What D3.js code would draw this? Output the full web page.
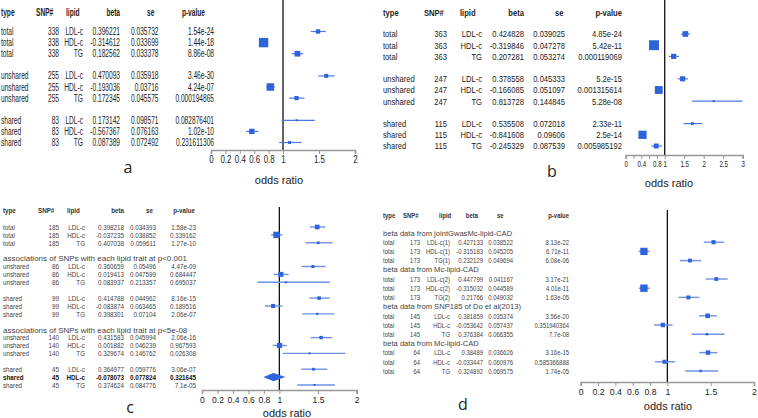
<!DOCTYPE html>
<html><head><meta charset="utf-8">
<script src="https://cdn.jsdelivr.net/npm/d3@7"></script>
<style>body{margin:0;background:#fff} svg{display:block}</style>
</head><body>
<svg id="chart" width="758" height="418"></svg>
<script>
// ---------- panel a ----------
const aType = ["total","total","total","unshared","unshared","unshared","shared","shared","shared"];
const aSnp = [338,338,338,255,255,255,83,83,83];
const aLipid = ["LDL-c","HDL-c","TG","LDL-c","HDL-c","TG","LDL-c","HDL-c","TG"];
const aBeta = [0.396221,-0.314612,0.182562,0.470093,-0.193036,0.172345,0.173142,-0.567367,0.087389];
const aSe = [0.035732,0.033699,0.033378,0.035918,0.03716,0.045575,0.098571,0.076163,0.072492];
const aP = ["1.54e-24","1.44e-18","8.86e-08","3.46e-30","4.24e-07","0.000194865","0.082876401","1.02e-10","0.231611306"];
const aGroup = [0,0,0,1,1,1,2,2,2];
const aSections = [null,null,null];
const aTicks = [0,0.2,0.4,0.6,0.8,1,1.5,2];

// ---------- panel b ----------
const bType = ["total","total","total","unshared","unshared","unshared","shared","shared","shared"];
const bSnp = [363,363,363,247,247,247,115,115,115];
const bLipid = ["LDL-c","HDL-c","TG","LDL-c","HDL-c","TG","LDL-c","HDL-c","TG"];
const bBeta = [0.424828,-0.319846,0.207281,0.378558,-0.166085,0.813728,0.535508,-0.841608,-0.245329];
const bSe = [0.039025,0.047278,0.053274,0.045333,0.051097,0.144845,0.072018,0.09606,0.087539];
const bP = ["4.85e-24","5.42e-11","0.000119069","5.2e-15","0.001315614","5.28e-08","2.33e-11","2.5e-14","0.005985192"];
const bGroup = [0,0,0,1,1,1,2,2,2];
const bSections = [null,null,null];
const bTicks = [0,0.2,0.4,0.6,0.8,1,1.5,2,2.5,3];
const bTickLabels = ["0","","0.4","","0.8","1","1.5","2","2.5","3"];

// ---------- panel c ----------
const cType = ["total","total","total","unshared","unshared","unshared","shared","shared","shared","unshared","unshared","unshared","shared","shared","shared"];
const cSnp = [185,185,185,86,86,86,99,99,99,140,140,140,45,45,45];
const cLipid = ["LDL-c","HDL-c","TG","LDL-c","HDL-c","TG","LDL-c","HDL-c","TG","LDL-c","HDL-c","TG","LDL-c","HDL-c","TG"];
const cBeta = [0.398218,-0.037235,0.407038,0.360659,0.019413,0.083937,0.414788,-0.083874,0.398301,0.431583,0.001882,0.329674,0.364977,-0.078073,0.374624];
const cSe = [0.034393,0.038852,0.059611,0.05496,0.047599,0.213357,0.044962,0.063465,0.07104,0.045994,0.046239,0.146762,0.059776,0.077824,0.084776];
const cP = ["1.58e-23","0.339162","1.27e-10","4.47e-09","0.684447","0.695037","8.16e-15","0.189516","2.06e-07","2.06e-16","0.967593","0.026308","3.06e-07","0.321645","7.1e-05"];
const cGroup = [0,0,0,1,1,1,2,2,2,3,3,3,4,4,4];
const cSections = [null,"associations of SNPs  with each lipid trait at p<0.001",null,"associations of SNPs  with each lipid trait at p<5e-08",null];
const cSummaryRow = 13;
const cTicks = [0,0.2,0.4,0.6,0.8,1,1.5,2];

// ---------- panel d ----------
const dType = ["total","total","total","total","total","total","total","total","total","total","total","total"];
const dSnp = [173,173,173,173,173,173,145,145,145,64,64,64];
const dLipid = ["LDL-c(1)","HDL-c(1)","TG(1)","LDL-c(2)","HDL-c(2)","TG(2)","LDL-c","HDL-c","TG","LDL-c","HDL-c","TG"];
const dBeta = [0.427133,-0.315183,0.232129,0.447799,-0.315032,0.21766,0.381859,-0.053642,0.376384,0.38489,-0.033447,0.324892];
const dSe = [0.038522,0.045205,0.049694,0.041167,0.044589,0.049032,0.035374,0.057437,0.066355,0.036626,0.060976,0.069575];
const dP = ["8.13e-22","6.71e-11","6.08e-06","3.17e-21","4.01e-11","1.63e-05","3.56e-20","0.351940364","7.7e-08","3.16e-15","0.585366888","1.74e-05"];
const dGroup = [0,0,0,1,1,1,2,2,2,3,3,3];
const dSections = ["beta data from jointGwasMc-lipid-CAD","beta data from Mc-lipid-CAD","beta data from SNP185 of Do et al(2013)","beta data from Mc-lipid-CAD"];
const dTicks = [0,0.2,0.4,0.6,0.8,1,1.5,2];

const headers = ["type","SNP#","lipid","beta","se","p-value"];

const svg = d3.select("#chart");
const SQ = "#2d63db", CI = "#4f78e0";

function squeeze(sel, sx) {
  sel.each(function () {
    if (sx === 1) return;
    const w = this.getComputedTextLength();
    if (w > 0) {
      this.setAttribute("textLength", (w * sx).toFixed(2));
      this.setAttribute("lengthAdjust", "spacingAndGlyphs");
    }
  });
}

function drawPanel(d, L) {
  const g = svg.append("g");
  const n = d.beta.length;
  const slots = []; const secSlots = [];
  let s = 0, prev = -1;
  for (let i = 0; i < n; i++) {
    const gi = d.group[i];
    if (gi !== prev) {
      if (prev >= 0) s += L.gap;
      if (d.sections[gi]) { secSlots.push({slot: s, text: d.sections[gi]}); s++; }
      prev = gi;
    }
    slots.push(s); s++;
  }
  const y = d3.scaleLinear().domain([0, s - 1]).range([L.y0, L.y0 + (s - 1) * L.rh]);
  const x = d3.scaleLinear().domain(L.domain).range(L.range);
  const font = L.font;
  headers.forEach((h, j) => {
    const t = g.append("text").attr("x", L.hx[j]).attr("y", L.hy).attr("dy", "0.35em")
      .attr("text-anchor", L.ha[j]).attr("font-family", font).attr("font-size", L.fs)
      .attr("font-weight", "bold").attr("fill", L.hc).text(h);
    squeeze(t, L.sx);
  });
  secSlots.forEach(o => {
    const t = g.append("text").attr("x", L.hx[0]).attr("y", y(o.slot)).attr("dy", "0.35em")
      .attr("font-family", font).attr("font-size", L.sfs).attr("fill", L.tc).text(o.text);
    squeeze(t, L.ssx);
  });
  for (let i = 0; i < n; i++) {
    const vals = [d.type[i], d.snp[i], d.lipid[i], d.beta[i], d.se[i], d.p[i]];
    const bold = d.summary === i;
    vals.forEach((v, j) => {
      const t = g.append("text").attr("x", L.vx[j]).attr("y", y(slots[i])).attr("dy", "0.35em")
        .attr("text-anchor", L.va[j]).attr("font-family", font).attr("font-size", L.fs)
        .attr("font-weight", bold ? "bold" : "normal").attr("fill", bold ? "#111" : L.tc).text(v);
      squeeze(t, L.sx);
    });
  }
  g.append("line").attr("x1", x(1)).attr("x2", x(1)).attr("y1", L.vTop).attr("y2", L.axisY)
    .attr("stroke", "#111").attr("stroke-width", 1.3);
  const ax = d3.axisBottom(x).tickValues(d.ticks).tickSize(4)
    .tickFormat((t, i) => d.tickLabels ? d.tickLabels[i] : d3.format("")(t));
  const ag = g.append("g").attr("transform", `translate(0,${L.axisY})`).call(ax);
  ag.select(".domain").attr("stroke", "#999").attr("stroke-width", 1.6);
  ag.selectAll(".tick line").attr("stroke", "#999");
  const tt = ag.selectAll(".tick text").attr("font-family", L.tfont).attr("font-size", L.tfs).attr("fill", "#222").attr("y", 6);
  squeeze(tt, L.tsx);
  g.append("text").attr("x", L.olx).attr("y", L.oly).attr("text-anchor", "middle")
    .attr("font-family", L.tfont).attr("font-size", L.ofs).attr("fill", "#222").text("odds ratio");
  g.append("text").attr("x", L.lx).attr("y", L.ly).attr("text-anchor", "middle")
    .attr("font-family", "Open Sans, Liberation Sans, sans-serif").attr("font-size", 16).attr("fill", "#222").text(L.label);
  for (let i = 0; i < n; i++) {
    const or = Math.exp(d.beta[i]);
    const lo = Math.exp(d.beta[i] - 1.96 * d.se[i]);
    const hi = Math.exp(d.beta[i] + 1.96 * d.se[i]);
    const yy = y(slots[i]);
    if (d.summary === i) {
      const hh = 4.2;
      g.append("path").attr("d", `M${x(lo)},${yy}L${x(or)},${yy - hh}L${x(hi)},${yy}L${x(or)},${yy + hh}Z`)
        .attr("fill", SQ);
      continue;
    }
    g.append("line").attr("x1", x(lo)).attr("x2", x(hi)).attr("y1", yy).attr("y2", yy)
      .attr("stroke", L.ciColor).attr("stroke-width", L.ciw);
    const side = Math.max(2, Math.min(L.maxS, L.k / (or * d.se[i])));
    g.append("rect").attr("x", x(or) - side / 2).attr("y", yy - side / 2)
      .attr("width", side).attr("height", side).attr("fill", SQ);
  }
}

const ARIAL = "Liberation Sans, Arial, sans-serif";

drawPanel({type: aType, snp: aSnp, lipid: aLipid, beta: aBeta, se: aSe, p: aP, group: aGroup, sections: aSections, ticks: aTicks},
  {gap: 1, y0: 31.5, rh: 11.1, hy: 12, domain: [0, 2], range: [211, 355], font: ARIAL, fs: 10, sx: 0.66, sfs: 10, ssx: 0.66, hc: "#222", tc: "#222",
   hx: [1, 36, 66, 120, 147, 205], ha: ["start","start","start","end","start","end"],
   vx: [1, 59, 83, 120, 158.5, 214], va: ["start","end","end","end","end","end"],
   vTop: 0, axisY: 150, tfont: ARIAL, tfs: 10.5, tsx: 0.75, ofs: 11, olx: 279, oly: 184, lx: 128, ly: 173, label: "a",
   k: 0.23, maxS: 10, ciColor: CI, ciw: 1.2});

drawPanel({type: bType, snp: bSnp, lipid: bLipid, beta: bBeta, se: bSe, p: bP, group: bGroup, sections: bSections, ticks: bTicks, tickLabels: bTickLabels},
  {gap: 1, y0: 34, rh: 11.2, hy: 13, domain: [0, 3], range: [625.7, 742.7], font: ARIAL, fs: 9.5, sx: 0.8, sfs: 9.5, ssx: 0.8, hc: "#222", tc: "#222",
   hx: [383, 424, 460, 524, 555, 622], ha: ["start","start","start","end","start","end"],
   vx: [383, 447, 482, 524, 565, 622], va: ["start","end","end","end","end","end"],
   vTop: 0, axisY: 155, tfont: ARIAL, tfs: 8.6, tsx: 0.72, ofs: 11, olx: 669, oly: 187, lx: 552, ly: 177, label: "b",
   k: 0.34, maxS: 10, ciColor: CI, ciw: 1.2});

drawPanel({type: cType, snp: cSnp, lipid: cLipid, beta: cBeta, se: cSe, p: cP, group: cGroup, sections: cSections, ticks: cTicks, summary: cSummaryRow},
  {gap: 1, y0: 227, rh: 7.9, hy: 210, domain: [0, 2], range: [202, 356.7], font: ARIAL, fs: 8, sx: 0.78, sfs: 8, ssx: 1, hc: "#333", tc: "#444",
   hx: [3, 38, 67, 124, 146, 195], ha: ["start","start","start","end","start","end"],
   vx: [3, 59, 85, 124, 156, 196], va: ["start","end","end","end","end","end"],
   vTop: 207, axisY: 390, tfont: ARIAL, tfs: 9.5, tsx: 0.9, ofs: 11, olx: 287, oly: 417, lx: 130, ly: 413, label: "c",
   k: 0.24, maxS: 8, ciColor: "#6f90e6", ciw: 1.4});

drawPanel({type: dType, snp: dSnp, lipid: dLipid, beta: dBeta, se: dSe, p: dP, group: dGroup, sections: dSections, ticks: dTicks},
  {gap: 0, y0: 233, rh: 9.2, hy: 215, domain: [0, 2], range: [580.7, 754], font: ARIAL, fs: 7.8, sx: 0.76, sfs: 7.6, ssx: 1, hc: "#333", tc: "#444",
   hx: [383, 403, 439, 478, 497, 569], ha: ["start","start","start","end","start","end"],
   vx: [383, 420, 450, 483, 513, 569], va: ["start","end","end","end","end","end"],
   vTop: 210, axisY: 382, tfont: ARIAL, tfs: 9.5, tsx: 0.92, ofs: 11, olx: 668, oly: 410, lx: 463, ly: 410, label: "d",
   k: 0.24, maxS: 8, ciColor: "#6f90e6", ciw: 1.4});
</script>
</body></html>
